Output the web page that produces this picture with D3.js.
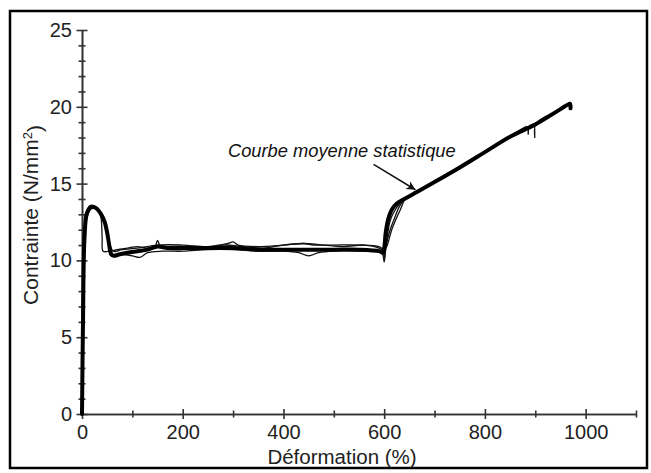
<!DOCTYPE html>
<html><head><meta charset="utf-8">
<script src="https://cdn.jsdelivr.net/npm/d3@7"></script>
<style>body{margin:0;background:#fff}svg{display:block}text{font-family:"Liberation Sans",Arial,sans-serif}</style>
</head><body>
<script>
// ---- data ----
const xMajorTicks = [0, 200, 400, 600, 800, 1000];
const xMinorTicks = [100, 300, 500, 700, 900, 1100];
const yMajorTicks = [0, 5, 10, 15, 20, 25];
const yMinorTicks = [1,2,3,4,6,7,8,9,11,12,13,14,16,17,18,19,21,22,23,24];

const meanStrain = [0,2,5,10,18,28,38,45,50,54,58,63,75,90,110,130,150,170,200,250,300,350,400,450,500,550,590,597,600,603,608,615,625,640,665,700,750,800,850,900,950,965,969,970];
const meanStress = [0,6,11.5,13.1,13.5,13.4,13.0,12.5,11.8,11.0,10.4,10.3,10.4,10.5,10.6,10.7,10.9,10.8,10.8,10.8,10.8,10.7,10.7,10.7,10.7,10.7,10.6,10.5,10.8,11.8,12.7,13.3,13.7,14.0,14.45,15.1,16.05,17.05,18.05,18.85,19.85,20.15,20.2,19.9];

const test1Strain = [0,4,10,20,30,37,40,42,55,70,90,110,130,145,150,156,170,200,240,280,320,360,400,440,480,520,560,590,598,600,603,610,620,630,640];
const test1Stress = [0,10,12.8,13.4,13.3,12.9,11.5,10.6,10.6,10.7,10.8,10.9,10.8,10.9,11.3,10.9,10.9,10.9,10.8,11.0,10.9,10.8,11.0,11.1,11.0,10.9,11.0,10.8,10.6,10.1,10.8,11.8,12.7,13.5,14.0];

const test2Strain = [0,5,15,30,45,52,60,80,100,115,130,160,200,250,300,350,400,430,450,470,500,550,595,600,602,606,612,622,632,640];
const test2Stress = [0,11,13.3,13.3,12.4,11.2,10.4,10.4,10.3,10.2,10.5,10.6,10.6,10.7,10.7,10.6,10.6,10.5,10.3,10.5,10.6,10.6,10.5,9.9,10.4,11.5,12.6,13.3,13.75,14.0];

const test3Strain = [0,5,15,30,45,53,62,80,110,150,200,250,290,300,310,350,400,440,460,500,550,590,600,605,615,625,632,640];
const test3Stress = [0,11,13.4,13.3,12.6,11.4,10.6,10.7,10.8,11.0,11.0,10.9,11.1,11.2,11.0,10.9,11.0,11.1,11.0,11.0,11.0,10.9,10.7,10.9,12.0,12.8,13.3,13.95];

const test4Strain = [640,700,750,800,850,884,886,888,897,899,901,950,965];
const test4Stress = [14.0,15.1,16.05,17.05,18.05,18.7,18.2,18.75,18.85,18.0,18.9,19.85,20.15];

const xTitle = "Déformation (%)";
const yTitle = "Contrainte (N/mm";
const annotation = "Courbe moyenne statistique";
const arrowFrom = [579, 16.25];
const arrowTo = [662, 14.6];

// ---- drawing ----
const W = 651, H = 473;
const svg = d3.select("body").append("svg").attr("width", W).attr("height", H);
svg.append("rect").attr("x", 10).attr("y", 11).attr("width", 637).attr("height", 457)
  .attr("fill", "none").attr("stroke", "#000").attr("stroke-width", 2.5);

const x = d3.scaleLinear().domain([0, 1100]).range([82, 636]);
const y = d3.scaleLinear().domain([0, 25]).range([414, 30]);
const axisColor = "#333";

function styleAxis(g, lo, hi, horizontal) {
  g.select(".domain").attr("stroke", axisColor).attr("stroke-width", 1.6);
  g.selectAll(".tick line").attr("stroke", axisColor).attr("stroke-width", 1.6)
    .attr(horizontal ? "y1" : "x1", lo).attr(horizontal ? "y2" : "x2", hi);
  g.selectAll(".tick text").attr("fill", "#222").style("font-size", "20px");
}

// x axis
const gxMinor = svg.append("g").attr("transform", `translate(0,${y(0)})`)
  .call(d3.axisBottom(x).tickValues(xMinorTicks).tickFormat("").tickSizeOuter(0));
styleAxis(gxMinor, -3.5, 3.5, true);
const gx = svg.append("g").attr("transform", `translate(0,${y(0)})`)
  .call(d3.axisBottom(x).tickValues(xMajorTicks).tickFormat(d3.format("d")).tickSizeOuter(0));
styleAxis(gx, -5, 5, true);
gx.selectAll(".tick text").attr("y", 11).attr("dy", "0.71em");

// y axis
const gyMinor = svg.append("g").attr("transform", `translate(${x(0)},0)`)
  .call(d3.axisLeft(y).tickValues(yMinorTicks).tickFormat("").tickSizeOuter(0));
styleAxis(gyMinor, -3.5, 3.5, false);
const gy = svg.append("g").attr("transform", `translate(${x(0)},0)`)
  .call(d3.axisLeft(y).tickValues(yMajorTicks).tickSizeOuter(0));
styleAxis(gy, -5.5, 5.5, false);
gy.selectAll(".tick text").attr("x", -10);

// titles
svg.append("text").attr("x", 342).attr("y", 464).attr("text-anchor", "middle")
  .style("font-size", "20.5px").attr("fill", "#222").text(xTitle);
const yt = svg.append("text").attr("transform", `translate(38,215) rotate(-90)`)
  .attr("text-anchor", "middle").style("font-size", "21px").attr("fill", "#222");
yt.append("tspan").text(yTitle);
yt.append("tspan").attr("dy", "-0.45em").style("font-size", "13px").text("2");
yt.append("tspan").attr("dy", "0.45em").text(")");

// curves
const line = d3.line().x(d => x(d[0])).y(d => y(d[1])).curve(d3.curveCatmullRom.alpha(0.5));
const zip = (a, b) => a.map((v, i) => [v, b[i]]);
const tests = [[test1Strain, test1Stress], [test2Strain, test2Stress], [test3Strain, test3Stress], [test4Strain, test4Stress]];
svg.append("g").selectAll("path").data(tests).join("path")
  .attr("d", d => line(zip(d[0], d[1])))
  .attr("fill", "none").attr("stroke", "#111").attr("stroke-width", 1.3).attr("stroke-linejoin", "round");
svg.append("path").attr("d", line(zip(meanStrain, meanStress)))
  .attr("fill", "none").attr("stroke", "#000").attr("stroke-width", 4).attr("stroke-linejoin", "round").attr("stroke-linecap", "round");

// annotation
svg.append("text").attr("x", 228).attr("y", 157).style("font-size", "18.3px").style("font-style", "italic")
  .attr("fill", "#111").text(annotation);
const defs = svg.append("defs");
defs.append("marker").attr("id", "ah").attr("viewBox", "0 0 10 10").attr("refX", 10).attr("refY", 5)
  .attr("markerWidth", 13).attr("markerHeight", 9).attr("markerUnits", "userSpaceOnUse").attr("orient", "auto")
  .append("path").attr("d", "M0,0 L10,5 L0,10 L3,5 Z").attr("fill", "#111");
svg.append("line").attr("x1", x(arrowFrom[0])).attr("y1", y(arrowFrom[1]))
  .attr("x2", x(arrowTo[0])).attr("y2", y(arrowTo[1]))
  .attr("stroke", "#111").attr("stroke-width", 1.5).attr("marker-end", "url(#ah)");
</script>
</body></html>
